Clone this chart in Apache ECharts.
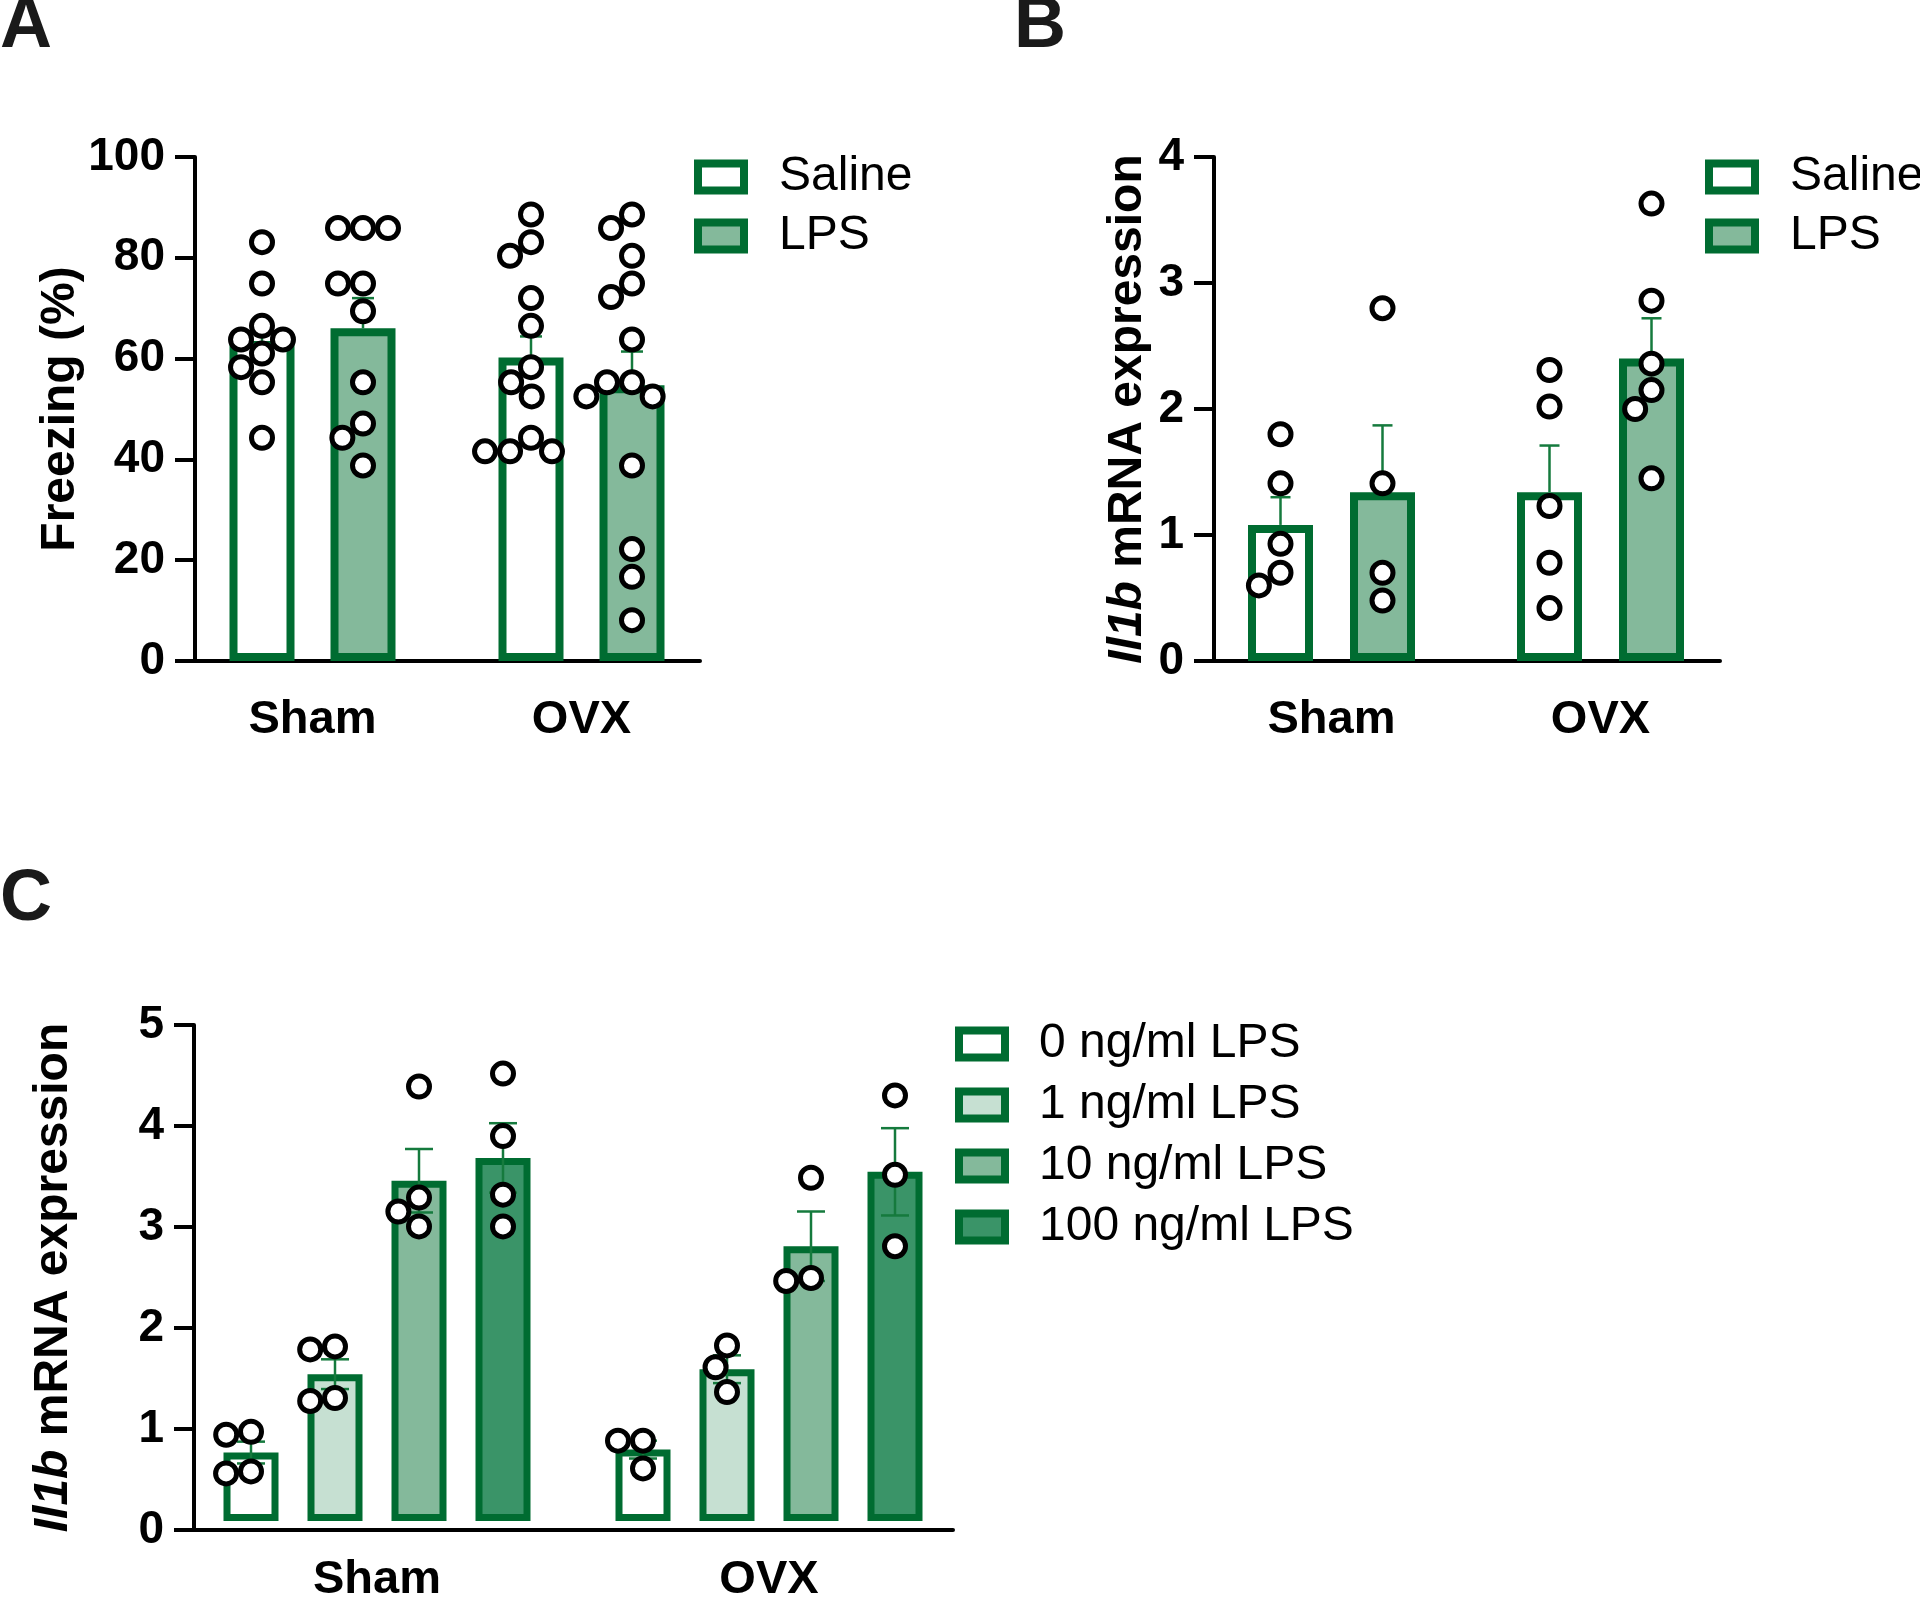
<!DOCTYPE html>
<html><head><meta charset="utf-8">
<script src="https://cdn.jsdelivr.net/npm/echarts@6/dist/echarts.min.js"></script>
<style>html,body{margin:0;padding:0;background:#fff}#c{width:1920px;height:1604px}</style>
</head><body><div id="c"></div>
<script>
// ===================== DATA =====================
const groups = ['Sham', 'OVX'];
const treatments = ['Saline', 'LPS'];
const doses = ['0 ng/ml LPS', '1 ng/ml LPS', '10 ng/ml LPS', '100 ng/ml LPS'];
const panelLabels = ['A', 'B', 'C'];
const yTicksA = [0, 20, 40, 60, 80, 100];
const yTicksB = [0, 1, 2, 3, 4];
const yTicksC = [0, 1, 2, 3, 4, 5];

// Panel A: Freezing (%) — bar means / SEM per group [Sham, OVX]
const freezeSalineMean = [63.5, 60.2];
const freezeSalineSem = [3.2, 4.2];
const freezeLpsMean = [66.0, 54.7];
const freezeLpsSem = [6.0, 6.7];
const freezeShamSaline = [83.1, 74.9, 66.5, 63.8, 63.8, 61.0, 58.3, 55.3, 44.3];
const freezeShamLps = [85.9, 85.9, 85.9, 74.9, 74.9, 69.4, 55.3, 47.1, 44.3, 38.8];
const freezeOvxSaline = [88.6, 83.1, 80.4, 72.0, 66.5, 58.3, 55.3, 52.5, 44.3, 41.6, 41.6, 41.6];
const freezeOvxLps = [88.6, 85.9, 80.4, 74.9, 72.2, 63.8, 55.3, 55.3, 52.5, 52.5, 38.8, 22.2, 16.7, 8.1];

// Panel B: Il1b mRNA expression (in vivo)
const il1bSalineMean = [1.08, 1.34];
const il1bSalineSem = [0.22, 0.37];
const il1bLpsMean = [1.34, 2.40];
const il1bLpsSem = [0.53, 0.32];
const il1bShamSaline = [1.80, 1.41, 0.93, 0.70, 0.60];
const il1bShamLps = [2.80, 1.41, 0.70, 0.48];
const il1bOvxSaline = [2.31, 2.02, 1.23, 0.78, 0.42];
const il1bOvxLps = [3.63, 2.86, 2.36, 2.15, 2.00, 1.45];

// Panel C: Il1b mRNA expression by LPS dose, per dose [Sham, OVX]
const dose0Mean = [0.69, 0.72];   const dose0Sem = [0.11, 0.09];
const dose1Mean = [1.48, 1.53];   const dose1Sem = [0.15, 0.14];
const dose10Mean = [3.43, 2.77];  const dose10Sem = [0.32, 0.35];
const dose100Mean = [3.66, 3.52]; const dose100Sem = [0.35, 0.44];
const dose0Sham = [0.90, 0.87, 0.50, 0.48];
const dose1Sham = [1.76, 1.73, 1.24, 1.21];
const dose10Sham = [4.38, 3.26, 3.12, 2.97];
const dose100Sham = [4.51, 3.88, 3.29, 2.97];
const dose0Ovx = [0.81, 0.81, 0.53];
const dose1Ovx = [1.77, 1.55, 1.30];
const dose10Ovx = [3.46, 2.45, 2.42];
const dose100Ovx = [4.29, 3.49, 2.77];

// ===================== STYLE / LAYOUT =====================
const FONT = '"Liberation Sans", Arial, Helvetica, sans-serif';
const EDGE = '#006c31';
const ERR = '#157a3d';
const FILL_SALINE = '#ffffff';
const FILL_LPS = '#84b99b';
const DOSE_FILLS = ['#ffffff', '#c6e0d2', '#84b99b', '#3a9468'];
const DOT_D = 25;

// frame = visible axes; bars = grid for the marks (same vertical scale)
const panels = {
  A: { frame: { left: 195, top: 157, width: 505, height: 504 }, bars: { left: 178, top: 157, width: 538, height: 504 },
       max: 100, barW: 65, border: 8, spacing: 101, cap: 22, both: false },
  B: { frame: { left: 1214, top: 157, width: 506, height: 504 }, bars: { left: 1197, top: 157, width: 538, height: 504 },
       max: 4, barW: 65, border: 8, spacing: 102, cap: 20, both: false },
  C: { frame: { left: 194, top: 1025, width: 759, height: 505 }, bars: { left: 181, top: 1025, width: 784, height: 505 },
       max: 5, barW: 55, border: 7, spacing: 84, cap: 28, both: true }
};

function slotOffsets(n, spacing) {
  const arr = [];
  for (let i = 0; i < n; i++) arr.push((i - (n - 1) / 2) * spacing);
  return arr;
}

// Greedy beeswarm: x offsets in px computed from values (pixel scale of the axis)
function swarm(values, pxPerUnit) {
  const placed = [];
  const order = values.map((v, i) => i).sort((a, b) => values[b] - values[a]);
  const res = new Array(values.length).fill(0);
  order.forEach(idx => {
    const y = values[idx] * pxPerUnit;
    const blocks = [];
    placed.forEach(p => {
      const dy = Math.abs(p.y - y);
      if (dy < DOT_D) {
        const h = Math.sqrt(DOT_D * DOT_D - dy * dy);
        blocks.push([p.x - h, p.x + h]);
      }
    });
    const cands = [0];
    blocks.forEach(b => { cands.push(b[0], b[1]); });
    cands.sort((a, b) => Math.abs(a) - Math.abs(b) || a - b);
    let x = 0;
    for (const c of cands) {
      if (blocks.every(b => c <= b[0] + 1e-6 || c >= b[1] - 1e-6)) { x = c; break; }
    }
    placed.push({ x, y });
    res[idx] = x;
  });
  return res;
}

function dotData(groupsPts, panel) {
  const pxPerUnit = panel.bars.height / panel.max;
  const out = [];
  groupsPts.forEach(([cat, slot, vals]) => {
    const dx = swarm(vals, pxPerUnit);
    vals.forEach((v, i) => out.push([cat, v, slot, dx[i]]));
  });
  return out;
}

function dotSeries(axisIdx, data, offsets) {
  return {
    type: 'custom', xAxisIndex: axisIdx, yAxisIndex: axisIdx, z: 20, silent: true,
    data: data,
    renderItem: function (params, api) {
      const p = api.coord([api.value(0), api.value(1)]);
      return {
        type: 'circle',
        shape: { cx: p[0] + offsets[api.value(2)] + api.value(3), cy: p[1], r: 10.5 },
        style: { fill: '#ffffff', stroke: '#000000', lineWidth: 5 }
      };
    }
  };
}

function errSeries(axisIdx, data, offsets, panel) {
  return {
    type: 'custom', xAxisIndex: axisIdx, yAxisIndex: axisIdx, z: 10, silent: true,
    data: data,
    renderItem: function (params, api) {
      const cat = api.value(0), m = api.value(1), s = api.value(2), slot = api.value(3);
      const top = api.coord([cat, m + s]);
      const base = api.coord([cat, panel.both ? m - s : m]);
      const x = top[0] + offsets[slot];
      const hc = panel.cap / 2;
      const st = { stroke: ERR, lineWidth: 2.5 };
      const children = [
        { type: 'line', shape: { x1: x, y1: base[1], x2: x, y2: top[1] }, style: st },
        { type: 'line', shape: { x1: x - hc, y1: top[1], x2: x + hc, y2: top[1] }, style: st }
      ];
      if (panel.both) children.push({ type: 'line', shape: { x1: x - hc, y1: base[1], x2: x + hc, y2: base[1] }, style: st });
      return { type: 'group', children: children };
    }
  };
}

function barSeries(name, axisIdx, values, fill, panel) {
  return {
    name: name, type: 'bar', xAxisIndex: axisIdx, yAxisIndex: axisIdx, z: 2,
    data: values, barWidth: panel.barW,
    barGap: ((panel.spacing - panel.barW) / panel.barW * 100) + '%',
    itemStyle: { color: fill, borderColor: EDGE, borderWidth: panel.border },
    emphasis: { disabled: true }
  };
}

function frameY(gridIdx, ticks, name, nameGap, rich) {
  return {
    type: 'value', gridIndex: gridIdx, min: ticks[0], max: ticks[ticks.length - 1],
    interval: ticks[1] - ticks[0],
    axisLine: { show: true, lineStyle: { color: '#000', width: 4 } },
    axisTick: { show: true, length: 20, lineStyle: { color: '#000', width: 4 } },
    axisLabel: { color: '#000', fontFamily: FONT, fontWeight: 'bold', fontSize: 46, margin: 30 },
    splitLine: { show: false },
    name: name, nameLocation: 'middle', nameGap: nameGap,
    nameTextStyle: { color: '#000', fontFamily: FONT, fontWeight: 'bold', fontSize: 48, rich: rich || {} }
  };
}
function barsY(gridIdx, ticks) {
  return {
    type: 'value', gridIndex: gridIdx, min: ticks[0], max: ticks[ticks.length - 1],
    interval: ticks[1] - ticks[0], show: false, splitLine: { show: false }
  };
}
function frameX(gridIdx) {
  return {
    type: 'category', gridIndex: gridIdx, data: groups,
    axisLine: { show: true, lineStyle: { color: '#000', width: 4 } },
    axisTick: { show: false }, axisLabel: { show: false }
  };
}
function barsX(gridIdx) {
  return {
    type: 'category', gridIndex: gridIdx, data: groups,
    axisLine: { show: false }, axisTick: { show: false },
    axisLabel: { color: '#000', fontFamily: FONT, fontWeight: 'bold', fontSize: 47, margin: 36 }
  };
}

const italicRich = { i: { fontStyle: 'italic', fontWeight: 'bold', fontSize: 48, fontFamily: FONT, color: '#000' } };

const offA = slotOffsets(2, panels.A.spacing);
const offB = slotOffsets(2, panels.B.spacing);
const offC = slotOffsets(4, panels.C.spacing);

// axis indices of the mark grids
const AX_A = 3, AX_B = 4, AX_C = 5;

const series = [];
// Panel A
series.push(barSeries('Saline', AX_A, freezeSalineMean, FILL_SALINE, panels.A));
series.push(barSeries('LPS', AX_A, freezeLpsMean, FILL_LPS, panels.A));
series.push(errSeries(AX_A, [
  [0, freezeSalineMean[0], freezeSalineSem[0], 0], [1, freezeSalineMean[1], freezeSalineSem[1], 0],
  [0, freezeLpsMean[0], freezeLpsSem[0], 1], [1, freezeLpsMean[1], freezeLpsSem[1], 1]
], offA, panels.A));
series.push(dotSeries(AX_A, dotData([
  [0, 0, freezeShamSaline], [0, 1, freezeShamLps], [1, 0, freezeOvxSaline], [1, 1, freezeOvxLps]
], panels.A), offA));
// Panel B
series.push(barSeries('Saline', AX_B, il1bSalineMean, FILL_SALINE, panels.B));
series.push(barSeries('LPS', AX_B, il1bLpsMean, FILL_LPS, panels.B));
series.push(errSeries(AX_B, [
  [0, il1bSalineMean[0], il1bSalineSem[0], 0], [1, il1bSalineMean[1], il1bSalineSem[1], 0],
  [0, il1bLpsMean[0], il1bLpsSem[0], 1], [1, il1bLpsMean[1], il1bLpsSem[1], 1]
], offB, panels.B));
series.push(dotSeries(AX_B, dotData([
  [0, 0, il1bShamSaline], [0, 1, il1bShamLps], [1, 0, il1bOvxSaline], [1, 1, il1bOvxLps]
], panels.B), offB));
// Panel C
const doseMeans = [dose0Mean, dose1Mean, dose10Mean, dose100Mean];
const doseSems = [dose0Sem, dose1Sem, dose10Sem, dose100Sem];
const dosePtsSham = [dose0Sham, dose1Sham, dose10Sham, dose100Sham];
const dosePtsOvx = [dose0Ovx, dose1Ovx, dose10Ovx, dose100Ovx];
doses.forEach((d, k) => series.push(barSeries(d, AX_C, doseMeans[k], DOSE_FILLS[k], panels.C)));
const errC = [], ptsC = [];
doses.forEach((d, k) => {
  errC.push([0, doseMeans[k][0], doseSems[k][0], k], [1, doseMeans[k][1], doseSems[k][1], k]);
  ptsC.push([0, k, dosePtsSham[k]], [1, k, dosePtsOvx[k]]);
});
series.push(errSeries(AX_C, errC, offC, panels.C));
series.push(dotSeries(AX_C, dotData(ptsC, panels.C), offC));

function legend(left, top, data, gap, pad) {
  return {
    orient: 'vertical', left: left, top: top, data: data, selectedMode: false, padding: 0,
    icon: 'rect', itemWidth: 46, itemHeight: 27, itemGap: gap,
    itemStyle: { borderColor: EDGE, borderWidth: 8 },
    textStyle: { color: '#000', fontFamily: FONT, fontSize: 48, lineHeight: 50, padding: [0, 0, 0, pad] }
  };
}

const option = {
  animation: false,
  backgroundColor: '#ffffff',
  grid: [panels.A.frame, panels.B.frame, panels.C.frame, panels.A.bars, panels.B.bars, panels.C.bars]
    .map(g => Object.assign({ containLabel: false }, g)),
  xAxis: [frameX(0), frameX(1), frameX(2), barsX(3), barsX(4), barsX(5)],
  yAxis: [
    frameY(0, yTicksA, 'Freezing (%)', 110),
    frameY(1, yTicksB, '{i|Il1b} mRNA expression', 62, italicRich),
    frameY(2, yTicksC, '{i|Il1b} mRNA expression', 116, italicRich)
  ].concat([barsY(3, yTicksA), barsY(4, yTicksB), barsY(5, yTicksC)]),
  legend: [
    legend(694, 152, treatments, 9, 30),
    legend(1705, 152, treatments, 9, 30),
    legend(955, 1019, doses, 11, 29)
  ],
  graphic: [
    { type: 'text', left: 0, top: -9, style: { text: panelLabels[0], font: 'bold 72px ' + FONT, fill: '#1a1a1a' } },
    { type: 'text', left: 1014, top: -9, style: { text: panelLabels[1], font: 'bold 72px ' + FONT, fill: '#1a1a1a' } },
    { type: 'text', left: 0, top: 864, style: { text: panelLabels[2], font: 'bold 72px ' + FONT, fill: '#1a1a1a' } }
  ],
  series: series
};

const chart = echarts.init(document.getElementById('c'), null, { renderer: 'canvas' });
chart.setOption(option);
</script>
</body></html>
